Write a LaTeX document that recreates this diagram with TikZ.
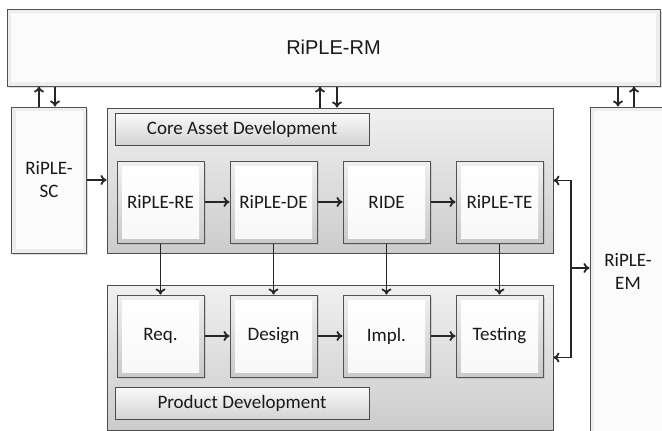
\documentclass[tikz,border=0pt]{standalone}
\usepackage{fontspec}
\setmainfont{Carlito}
\newfontfamily\headfont{Liberation Sans}
\usetikzlibrary{arrows.meta,shadows}

\tikzset{
  % outer modules (repository, scoping, evolution)
  panel/.style={draw=gray!65!black, line width=1pt, fill=gray!14,
    drop shadow={shadow xshift=1.5pt,shadow yshift=-1.5pt,fill=gray!55},
    path picture={\fill[gray!3] ([shift={(4pt,4pt)}]path picture bounding box.south west)
      rectangle ([shift={(-4pt,-4pt)}]path picture bounding box.north east);},
    align=center, text=black!90},
  % development areas
  area/.style={draw=gray!60!black, line width=1pt, top color=gray!12, bottom color=gray!40,
    minimum width=446pt, minimum height=145pt},
  % area titles
  areatag/.style={draw=gray!60!black, line width=1pt, top color=gray!4, bottom color=gray!34,
    minimum width=254pt, minimum height=32pt, text=black!90},
  % single activities
  stage/.style={draw=gray!65!black, line width=1pt, top color=gray!12, bottom color=gray!42,
    minimum width=87pt, minimum height=82pt, text=black!90,
    drop shadow={shadow xshift=1.5pt,shadow yshift=-1.5pt,fill=gray!60},
    path picture={\fill[top color=white, bottom color=gray!6]
      ([shift={(5pt,5pt)}]path picture bounding box.south west)
      rectangle ([shift={(-5pt,-5pt)}]path picture bounding box.north east);}},
  flow/.style={-{To[length=6pt,width=10pt]}, line width=1.8pt, draw=black!85},
}

\begin{document}
\begin{tikzpicture}[x=1pt,y=-1pt,font=\fontsize{19}{23}\selectfont]
\useasboundingbox (0,0) rectangle (662,431);

% Modules around the development areas
\node[panel, minimum width=653pt, minimum height=77pt] (rm) at (333.5,47.5) {};
\node[font=\headfont\fontsize{20}{24}\selectfont, text=black!90] (rmtext) at (rm.center) {RiPLE-RM};
\node[panel, minimum width=75pt, minimum height=146pt] (sc) at (49,180) {RiPLE-\\SC};
\node[panel, minimum width=76pt, minimum height=328pt] (em) at (628,271) {RiPLE-\\EM};

% Core asset development
\node[area] (core) at (330,180.5) {};
\node[areatag] (cad) at (242,129) {Core Asset Development};
\node[stage] (re) at (160.5,202) {RiPLE-RE};
\node[stage] (de) at (273.5,202) {RiPLE-DE};
\node[stage] (ride) at (386.5,202) {RIDE};
\node[stage] (te) at (499.5,202) {RiPLE-TE};

% Product development
\node[area] (prod) at (330,357.5) {};
\node[areatag] (pd) at (242,403) {Product Development};
\node[stage] (req) at (160.5,336) {Req.};
\node[stage] (design) at (273.5,336) {Design};
\node[stage] (impl) at (386.5,336) {Impl.};
\node[stage] (testing) at (499.5,336) {Testing};

% Repository links
\draw[flow] ([xshift=-10pt]sc.north) -- ([xshift=-10pt]sc.north |- rm.south);
\draw[flow] ([xshift=6pt]sc.north |- rm.south) -- ([xshift=6pt]sc.north);
\draw[flow] ([xshift=-10pt]core.north) -- ([xshift=-10pt]core.north |- rm.south);
\draw[flow] ([xshift=7pt]core.north |- rm.south) -- ([xshift=7pt]core.north);
\draw[flow] ([xshift=-10pt]em.north |- rm.south) -- ([xshift=-10pt]em.north);
\draw[flow] ([xshift=6pt]em.north) -- ([xshift=6pt]em.north |- rm.south);

% Scoping feeds core assets
\draw[flow] (sc.east) -- (sc.east -| core.west);

% Activity chains
\foreach \a/\b in {re/de, de/ride, ride/te, req/design, design/impl, impl/testing}
  \draw[flow] (\a) -- (\b);

% Core assets into products
\foreach \a/\b in {re/req, de/design, ride/impl, te/testing}
  \draw[flow] (\a.south) -- (\b.north);

% Evolution management
\coordinate (bus) at (571,268);
\draw[flow, {To[length=6pt,width=10pt]}-{To[length=6pt,width=10pt]}] (core.east) -| (bus) |- (prod.east);
\draw[flow] (bus) -- (bus -| em.west);
\end{tikzpicture}
\end{document}
